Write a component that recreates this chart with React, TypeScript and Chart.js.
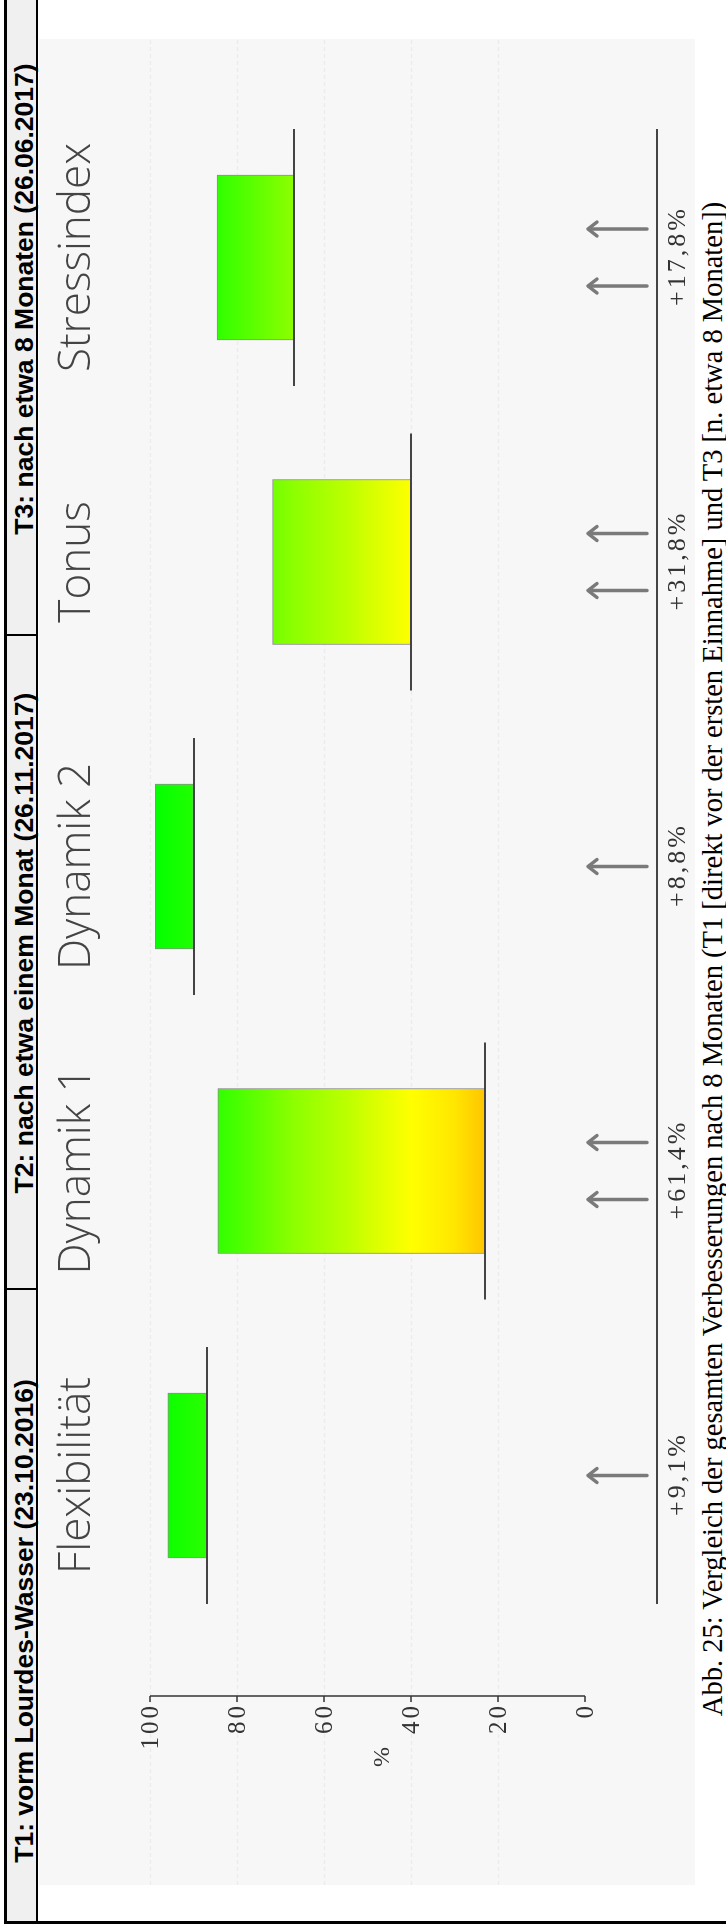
import React, { useEffect, useRef } from "react";
import { Chart, registerables } from "chart.js";

Chart.register(...registerables);

// ---- data ----
const categories = ["Flexibilität", "Dynamik 1", "Dynamik 2", "Tonus", "Stressindex"];
const t1Values = [86.8, 23.0, 90.0, 40.0, 66.8];
const t3Values = [95.9, 84.4, 98.8, 71.8, 84.6];
const improvementLabels = ["+9,1%", "+61,4%", "+8,8%", "+31,8%", "+17,8%"];
const arrowCounts = [1, 2, 1, 2, 2];
const valueTicks = [0, 20, 40, 60, 80, 100];
const gridTicks = [20, 40, 60, 80, 100];
const headerLabels = [
  "T1: vorm Lourdes-Wasser (23.10.2016)",
  "T2: nach etwa einem Monat (26.11.2017)",
  "T3: nach etwa 8 Monaten (26.06.2017)",
];
const captionText =
  "Abb. 25: Vergleich der gesamten Verbesserungen nach 8 Monaten (T1 [direkt vor der ersten Einnahme] und T3 [n. etwa 8 Monaten])";

// ---- styles ----
const GRADIENT: [number, string][] = [
  [100, "#00ff00"],
  [84, "#33ff00"],
  [67, "#8cff00"],
  [55, "#bbff00"],
  [40, "#ffff00"],
  [30, "#ffe600"],
  [22, "#ffc000"],
  [0, "#ff9900"],
];

const CANVAS_W = 1846;
const CANVAS_H = 656;
const X_MIN = -1.3448;
const X_MAX = 4.7176;
const Y_MIN = -25.29;
const Y_MAX = 125.52;

const AXIS_X = 189;
const TICK_LEN = 6;
const MARKER_HALF = 128.5;
const ARROW_GAP = 28.5;

const gradientFill = (ctx: any) => {
  const chart = ctx.chart;
  const { chartArea, scales } = chart;
  if (!chartArea) return GRADIENT[0][1];
  const y = scales.y;
  const top = y.getPixelForValue(100);
  const bottom = y.getPixelForValue(0);
  const g = chart.ctx.createLinearGradient(0, top, 0, bottom);
  for (const [v, c] of GRADIENT) g.addColorStop((100 - v) / 100, c);
  return g;
};

const decorPlugin = {
  id: "decor",
  beforeDraw(chart: any) {
    const { ctx, width, height, scales } = chart;
    const y = scales.y;
    ctx.save();
    ctx.fillStyle = "#f7f7f7";
    ctx.fillRect(0, 0, width, height);
    ctx.strokeStyle = "rgba(0,0,0,0.045)";
    ctx.lineWidth = 1.5;
    ctx.setLineDash([4, 3]);
    for (const v of gridTicks) {
      const py = Math.round(y.getPixelForValue(v)) + 0.5;
      ctx.beginPath();
      ctx.moveTo(0, py);
      ctx.lineTo(width, py);
      ctx.stroke();
    }
    ctx.restore();
  },
  afterDatasetsDraw(chart: any) {
    const { ctx, scales } = chart;
    const x = scales.x;
    const y = scales.y;
    const zero = y.getPixelForValue(0);
    ctx.save();

    // T1 marker lines
    ctx.strokeStyle = "#444";
    ctx.lineWidth = 2;
    categories.forEach((_, i) => {
      const px = x.getPixelForValue(i);
      const py = Math.round(y.getPixelForValue(t1Values[i]));
      ctx.beginPath();
      ctx.moveTo(px - MARKER_HALF, py);
      ctx.lineTo(px + MARKER_HALF, py);
      ctx.stroke();
    });

    // value axis
    ctx.strokeStyle = "#333";
    ctx.lineWidth = 1.5;
    ctx.beginPath();
    ctx.moveTo(AXIS_X, y.getPixelForValue(0));
    ctx.lineTo(AXIS_X, y.getPixelForValue(100));
    ctx.stroke();
    ctx.fillStyle = "#333";
    ctx.font = "25px 'Liberation Serif'";
    (ctx as any).letterSpacing = "3px";
    ctx.textAlign = "right";
    ctx.textBaseline = "middle";
    for (const v of valueTicks) {
      const py = Math.round(y.getPixelForValue(v));
      ctx.beginPath();
      ctx.moveTo(AXIS_X, py);
      ctx.lineTo(AXIS_X - TICK_LEN, py);
      ctx.stroke();
      ctx.fillText(String(v), AXIS_X - TICK_LEN - 1, py + 1);
    }
    (ctx as any).letterSpacing = "0px";
    ctx.font = "24px 'Liberation Serif'";
    ctx.textAlign = "center";
    ctx.fillText("%", 128, y.getPixelForValue(50) + 15);

    // category labels
    ctx.fillStyle = "#444";
    ctx.font = "300 44px 'Open Sans'";
    ctx.textAlign = "center";
    ctx.textBaseline = "alphabetic";
    categories.forEach((c, i) => {
      ctx.fillText(c, x.getPixelForValue(i), 51);
    });

    // arrows
    ctx.strokeStyle = "#7a7a7a";
    ctx.lineWidth = 3.5;
    ctx.lineCap = "round";
    ctx.lineJoin = "round";
    categories.forEach((_, i) => {
      const cx = x.getPixelForValue(i);
      const n = arrowCounts[i];
      const offs = n === 1 ? [0] : [-ARROW_GAP, ARROW_GAP];
      for (const o of offs) {
        const ax = cx + o;
        const tip = zero + 3;
        const tail = zero + 62;
        ctx.beginPath();
        ctx.moveTo(ax, tail);
        ctx.lineTo(ax, tip + 1);
        ctx.stroke();
        ctx.beginPath();
        ctx.moveTo(ax - 7, tip + 9);
        ctx.lineTo(ax, tip);
        ctx.lineTo(ax + 7, tip + 9);
        ctx.stroke();
      }
    });

    // bottom line
    ctx.strokeStyle = "#444";
    ctx.lineWidth = 2;
    ctx.lineCap = "butt";
    const by = Math.round(zero + 72);
    ctx.beginPath();
    ctx.moveTo(x.getPixelForValue(0) - MARKER_HALF, by);
    ctx.lineTo(x.getPixelForValue(categories.length - 1) + MARKER_HALF, by);
    ctx.stroke();

    // improvement labels
    ctx.fillStyle = "#333";
    ctx.font = "26px 'Liberation Serif'";
    (ctx as any).letterSpacing = "3px";
    ctx.textAlign = "center";
    ctx.textBaseline = "middle";
    categories.forEach((_, i) => {
      ctx.fillText(improvementLabels[i], x.getPixelForValue(i) + 1.5, zero + 93);
    });
    (ctx as any).letterSpacing = "0px";

    ctx.restore();
  },
};

function ChartCanvas() {
  const ref = useRef<HTMLCanvasElement | null>(null);
  useEffect(() => {
    if (!ref.current) return;
    const chart = new Chart(ref.current, {
      type: "bar",
      data: {
        datasets: [
          {
            data: categories.map((_, i) => ({ x: i, y: [t1Values[i], t3Values[i]] })) as any,
            backgroundColor: gradientFill as any,
            borderColor: "#8c8c8c",
            borderWidth: 1,
            borderSkipped: false,
            barThickness: 165,
          } as any,
        ],
      },
      options: {
        animation: false,
        responsive: false,
        maintainAspectRatio: false,
        events: [],
        layout: { padding: 0 },
        plugins: {
          legend: { display: false },
          tooltip: { enabled: false },
          title: { display: false },
        },
        scales: {
          x: { type: "linear", min: X_MIN, max: X_MAX, display: false, offset: false },
          y: { type: "linear", min: Y_MIN, max: Y_MAX, display: false },
        },
      } as any,
      plugins: [decorPlugin as any],
    });
    return () => chart.destroy();
  }, []);
  return (
    <canvas
      ref={ref}
      width={CANVAS_W}
      height={CANVAS_H}
      style={{ position: "absolute", left: 47, top: 39, width: CANVAS_W, height: CANVAS_H }}
    />
  );
}

const headerCenters = [311, 989, 1633];
const headerSeparators = [642, 1296];

export default function App() {
  return (
    <div
      style={{
        position: "absolute",
        left: 0,
        top: 0,
        width: 726,
        height: 1932,
        overflow: "hidden",
        background: "#fff",
      }}
    >
      <div
        style={{
          position: "absolute",
          left: 0,
          top: 0,
          width: 1932,
          height: 726,
          transformOrigin: "0 0",
          transform: "translate(0px, 1932px) rotate(-90deg)",
        }}
      >
        {/* header row */}
        <div style={{ position: "absolute", left: 11, top: 7, width: 1921, height: 29, background: "#f0f0f0" }} />
        <div style={{ position: "absolute", left: 8, top: 4, width: 1924, height: 3, background: "#000" }} />
        <div style={{ position: "absolute", left: 8, top: 4, width: 3, height: 722, background: "#000" }} />
        <div style={{ position: "absolute", left: 11, top: 35.5, width: 1921, height: 2.5, background: "#000" }} />
        {headerSeparators.map((s, i) => (
          <div key={i} style={{ position: "absolute", left: s, top: 7, width: 1.5, height: 29, background: "#000" }} />
        ))}
        {headerLabels.map((t, i) => (
          <div
            key={i}
            style={{
              position: "absolute",
              left: headerCenters[i] - 400,
              width: 800,
              top: 10.5,
              textAlign: "center",
              whiteSpace: "nowrap",
              font: "bold 26.5px 'Liberation Sans', Arial, sans-serif",
              lineHeight: "26px",
              color: "#000",
            }}
          >
            {t}
          </div>
        ))}
        <ChartCanvas />
        <div
          style={{
            position: "absolute",
            left: -27,
            width: 2000,
            top: 698,
            textAlign: "center",
            whiteSpace: "nowrap",
            font: "28.5px 'Liberation Serif', 'Times New Roman', serif",
            lineHeight: "29px",
            color: "#000",
          }}
        >
          {captionText}
        </div>
      </div>
    </div>
  );
}
